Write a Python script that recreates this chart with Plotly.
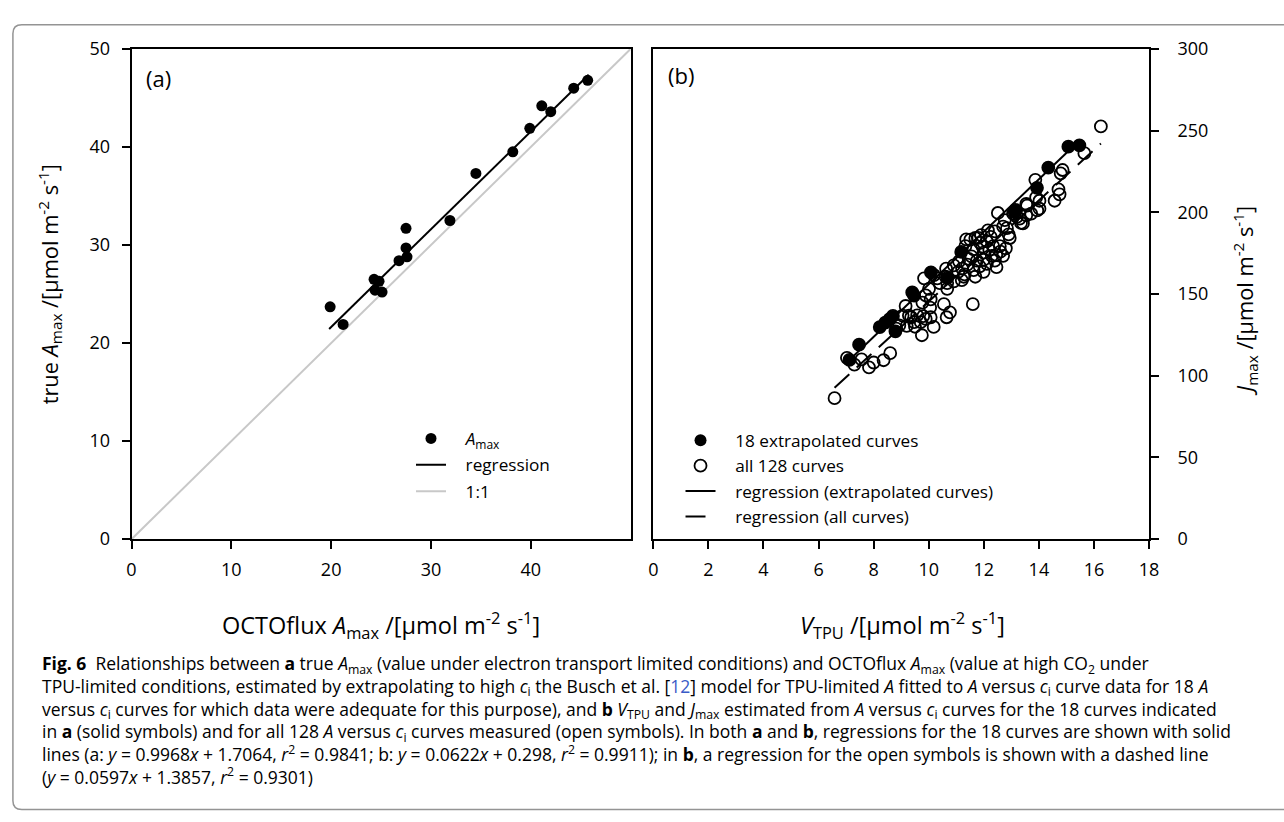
import plotly.graph_objects as go

# ---------------- data ----------------
# panel (a): OCTOflux A_max (x) vs true A_max (y)
a_octoflux = [19.9, 21.2, 24.3, 24.8, 24.4, 25.1, 26.8, 27.5, 27.5, 27.6,
              31.9, 34.5, 38.2, 39.9, 41.1, 42.0, 44.3, 45.7]
a_true = [23.7, 21.9, 26.5, 26.3, 25.4, 25.2, 28.4, 31.7, 29.7, 28.8,
          32.5, 37.3, 39.5, 41.9, 44.2, 43.6, 46.0, 46.8]
reg_a = (0.9968, 1.7064)          # y = m x + c
reg_a_span = (19.8, 45.8)
one_to_one = (0, 50)

# panel (b): V_TPU (x) vs J_max (y)
ext_vtpu = [7.12, 7.47, 8.22, 8.42, 8.58, 8.70, 8.79, 9.40, 9.47, 10.08,
            10.68, 11.18, 13.12, 13.15, 13.93, 14.34, 15.07, 15.47]
ext_jmax = [109.7, 119.0, 129.8, 132.5, 134.6, 136.6, 127.2, 151.0, 149.0, 163.2,
            160.0, 175.8, 200.2, 201.5, 215.0, 227.4, 240.2, 241.0]

other_vtpu = [6.58, 7.03, 7.30, 7.56, 7.83, 8.00, 8.36, 8.60, 8.82,
              8.93, 9.05, 9.16, 9.28, 9.36, 9.47, 9.50, 9.58, 9.71, 9.75, 9.80,
              9.77, 9.89, 10.05, 10.07, 10.18, 10.55, 10.65, 10.77, 11.60,
              9.83, 10.01, 9.89, 10.07, 10.31, 10.40, 10.67, 10.19, 10.61, 10.67,
              10.91, 10.91, 10.63, 11.07,
              11.21, 11.27, 11.33, 11.36, 11.45, 11.51, 11.63, 11.63, 11.69, 11.69,
              11.75, 11.80, 11.87, 11.99, 11.99, 12.11, 12.11, 12.29, 12.34, 12.46,
              12.58, 12.70, 11.40, 11.85, 12.20, 12.00, 11.55, 12.40, 11.10, 11.90,
              12.25, 12.60, 11.30, 12.80, 12.45, 11.95,
              12.40, 12.70, 12.94, 12.84, 12.51, 12.76, 13.06, 13.20, 13.30, 13.35,
              13.54, 13.42, 13.57, 13.72, 13.94, 14.02, 13.90, 14.02, 13.54, 14.57,
              14.71, 14.75, 13.87, 14.79, 14.86, 15.65, 16.25,
              12.15, 12.90, 11.20, 9.20]
other_jmax = [86.3, 111.0, 106.8, 110.0, 105.1, 108.1, 109.5, 113.8, 128.9,
              130.8, 136.8, 142.7, 136.8, 135.8, 132.8, 130.0, 137.0, 132.8, 124.8, 136.5,
              144.8, 134.8, 141.7, 135.8, 129.9, 143.8, 135.8, 138.8, 143.8,
              159.6, 153.2, 149.2, 146.8, 159.6, 156.7, 153.2, 161.6, 160.6, 156.7,
              157.7, 167.5, 165.6, 163.6,
              165.6, 160.6, 179.3, 183.4, 171.5, 183.3, 177.4, 164.6, 184.3, 160.6,
              170.5, 184.4, 181.3, 175.4, 163.6, 182.3, 168.5, 173.4, 179.3, 166.5,
              179.3, 173.4, 168.0, 167.0, 177.0, 171.0, 173.0, 170.5, 170.0, 186.0,
              185.0, 176.0, 162.0, 178.0, 174.0, 179.0,
              188.3, 191.3, 184.3, 190.3, 199.6, 195.2, 199.2, 197.2, 196.2, 193.5,
              198.2, 193.2, 204.1, 199.2, 201.2, 207.1, 209.1, 202.2, 205.1, 207.1,
              214.0, 211.0, 219.9, 223.9, 225.9, 236.2, 252.6,
              189.0, 186.5, 158.5, 130.5]
# all 128 curves = the 18 extrapolated ones + the others
all_vtpu = ext_vtpu + other_vtpu
all_jmax = ext_jmax + other_jmax

# regression lines in panel (b), written as J = m V + c
reg_ext = (1 / 0.0622, -0.298 / 0.0622)
reg_ext_span = (7.1, 15.3)
reg_all = (15.45, -9.0)
reg_all_span = (6.58, 16.25)

a_xticks = [0, 10, 20, 30, 40]
a_yticks = [0, 10, 20, 30, 40, 50]
b_xticks = [0, 2, 4, 6, 8, 10, 12, 14, 16, 18]
b_yticks = [0, 50, 100, 150, 200, 250, 300]

# ---------------- layout helpers ----------------
W, H = 1284, 822
def px(x):
    return x / W
def py(y):
    return 1 - y / H

FONT = "Open Sans, Noto Sans, sans-serif"
unit = " /[µmol m<sup>-2</sup> s<sup>-1</sup>]"
pad = "\u2002\u2005\u200a"

fig = go.Figure()

# ---- panel (a)
fig.add_trace(go.Scatter(x=list(one_to_one), y=list(one_to_one), mode="lines",
                         line=dict(color="#c8c8c8", width=2), name=pad + "1:1",
                         xaxis="x", yaxis="y", legend="legend", legendrank=3,
                         legendgroup="a3"))
ra = [reg_a[0] * v + reg_a[1] for v in reg_a_span]
fig.add_trace(go.Scatter(x=list(reg_a_span), y=ra, mode="lines",
                         line=dict(color="black", width=2), name=pad + "regression",
                         xaxis="x", yaxis="y", legend="legend", legendrank=2,
                         legendgroup="a2"))
fig.add_trace(go.Scatter(x=a_octoflux, y=a_true, mode="markers",
                         marker=dict(color="black", size=11),
                         name=pad + "<i>A</i><sub>max</sub>",
                         xaxis="x", yaxis="y", legend="legend", legendrank=1,
                         legendgroup="a1"))

# ---- panel (b)
fig.add_trace(go.Scatter(x=all_vtpu, y=all_jmax, mode="markers",
                         marker=dict(symbol="circle-open", color="black", size=12,
                                     line=dict(width=1.8)),
                         name=pad + "all 128 curves", xaxis="x2", yaxis="y2",
                         legend="legend2", legendrank=2, legendgroup="b2"))
rb = [reg_ext[0] * v + reg_ext[1] for v in reg_ext_span]
fig.add_trace(go.Scatter(x=list(reg_ext_span), y=rb, mode="lines",
                         line=dict(color="black", width=2),
                         name=pad + "regression (extrapolated curves)",
                         xaxis="x2", yaxis="y2", legend="legend2", legendrank=3,
                         legendgroup="b3"))
rc = [reg_all[0] * v + reg_all[1] for v in reg_all_span]
fig.add_trace(go.Scatter(x=list(reg_all_span), y=rc, mode="lines",
                         line=dict(color="black", width=2, dash="20px,10px"),
                         name=pad + "regression (all curves)",
                         xaxis="x2", yaxis="y2", legend="legend2", legendrank=4,
                         legendgroup="b4"))
fig.add_trace(go.Scatter(x=ext_vtpu, y=ext_jmax, mode="markers",
                         marker=dict(color="black", size=12),
                         name=pad + "18 extrapolated curves", xaxis="x2", yaxis="y2",
                         legend="legend2", legendrank=1, legendgroup="b1"))

ax_common = dict(showgrid=False, zeroline=False, showline=True, linecolor="black",
                 linewidth=1.5, mirror=True, ticks="outside", ticklen=8,
                 tickwidth=1.5, tickcolor="black",
                 tickfont=dict(family=FONT, size=18, color="black"))

y_dom = [py(542), py(37)]
fig.update_layout(
    width=W, height=H, margin=dict(l=0, r=0, t=0, b=0),
    paper_bgcolor="white", plot_bgcolor="white",
    font=dict(family=FONT, color="black"),
    xaxis=dict(domain=[px(128), px(633)], range=[0, 50], tickvals=a_xticks,
               anchor="y", ticklabelstandoff=5, **ax_common),
    yaxis=dict(domain=y_dom, range=[0, 50], tickvals=a_yticks, anchor="x",
               ticklabelstandoff=8, **ax_common),
    xaxis2=dict(domain=[px(656), px(1157.6)], range=[0, 18], tickvals=b_xticks,
                anchor="y2", ticklabelstandoff=5, **ax_common),
    yaxis2=dict(domain=y_dom, range=[0, 300], tickvals=b_yticks, anchor="x2",
                side="right", ticklabelstandoff=15, **ax_common),
    legend=dict(x=px(410.8), y=py(420), xanchor="left", yanchor="top",
                bgcolor="rgba(0,0,0,0)", traceorder="grouped", tracegroupgap=1,
                font=dict(family=FONT, size=17.2, color="black")),
    legend2=dict(x=px(683.5), y=py(422), xanchor="left", yanchor="top",
                 bgcolor="rgba(0,0,0,0)", traceorder="grouped", tracegroupgap=0,
                 font=dict(family=FONT, size=17.2, color="black")),
    showlegend=True,
)

ann = []
def add_text(x, y, text, size, angle=0, xanchor="center", yanchor="middle",
             align="center"):
    ann.append(dict(x=px(x), y=py(y), xref="paper", yref="paper", text=text,
                    showarrow=False, textangle=angle, xanchor=xanchor,
                    yanchor=yanchor, align=align,
                    font=dict(family=FONT, size=size, color="black")))

add_text(141, 67, "(a)", 22, xanchor="left")
add_text(669, 64, "(b)", 22, xanchor="left")
add_text(380, 630, "OCTOflux <i>A</i><sub>max</sub>" + unit, 23.5)
add_text(908, 630, "<i>V</i><sub>TPU</sub>" + unit, 23.5)
add_text(45, 279, "true <i>A</i><sub>max</sub>" + unit, 21.8, angle=-90)
add_text(1255, 296, "<i>J</i><sub>max</sub>" + unit, 21.8, angle=-90)

ci = "<i>c</i><sub>i</sub>"
Am = "<i>A</i><sub>max</sub>"
eq = " = "
pl = " + "
caption = [
    "<b>Fig. 6</b>  Relationships between <b>a</b> true " + Am +
    " (value under electron transport limited conditions) and OCTOflux " + Am +
    " (value at high CO<sub>2</sub> under",
    "TPU-limited conditions, estimated by extrapolating to high " + ci +
    " the Busch et al. [<span style='color:#3a5bc7'>12</span>] model for TPU-limited <i>A</i> fitted to <i>A</i> versus " +
    ci + " curve data for 18 <i>A</i>",
    "versus " + ci + " curves for which data were adequate for this purpose), and <b>b</b> "
    "<i>V</i><sub>TPU</sub> and <i>J</i><sub>max</sub> estimated from <i>A</i> versus " + ci +
    " curves for the 18 curves indicated",
    "in <b>a</b> (solid symbols) and for all 128 <i>A</i> versus " + ci +
    " curves measured (open symbols). In both <b>a</b> and <b>b</b>, regressions for the 18 curves are shown with solid",
    "lines (a: <i>y</i>" + eq + "0.9968<i>x</i>" + pl + "1.7064, <i>r</i><sup>2</sup>" + eq +
    "0.9841; b: <i>y</i>" + eq + "0.0622<i>x</i>" + pl + "0.298, <i>r</i><sup>2</sup>" + eq +
    "0.9911); in <b>b</b>, a regression for the open symbols is shown with a dashed line",
    "(<i>y</i>" + eq + "0.0597<i>x</i>" + pl + "1.3857, <i>r</i><sup>2</sup>" + eq + "0.9301)",
]
add_text(35, 728, "<br>".join(caption), 17.5, xanchor="left", align="left")

fig.update_layout(annotations=ann)

# outer rounded frame
r = 9
top, left, bot = 12, 8, 820.5
path = (f"M {px(1300)},{py(top)} L {px(left + r)},{py(top)} "
        f"Q {px(left)},{py(top)} {px(left)},{py(top + r)} "
        f"L {px(left)},{py(bot - r)} Q {px(left)},{py(bot)} {px(left + r)},{py(bot)} "
        f"L {px(1300)},{py(bot)}")
fig.add_shape(type="path", path=path, xref="paper", yref="paper",
              line=dict(color="#949494", width=1.5), layer="above")

css = ("var s=document.createElement('style');"
       "s.innerHTML='html,body{margin:0!important;padding:0!important;overflow:hidden!important;}"
       ".plotly-graph-div{display:block;}';"
       "document.head.appendChild(s);")
fig.write_html("out.html", config={"displayModeBar": False}, post_script=css)
